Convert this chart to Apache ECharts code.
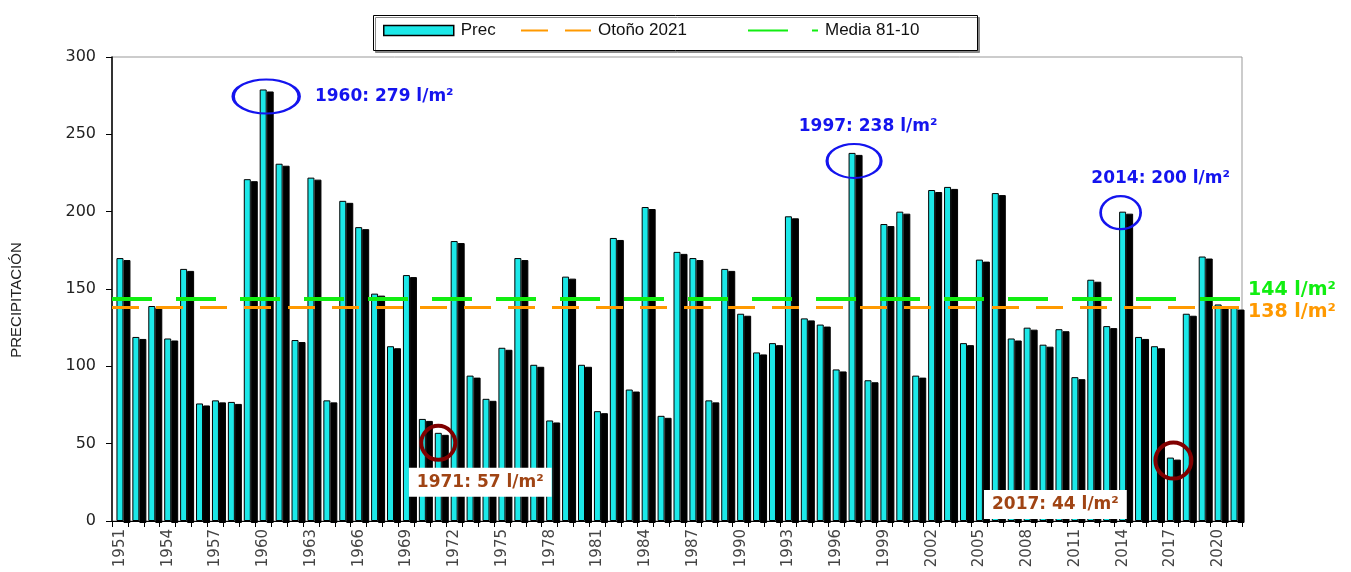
<!DOCTYPE html>
<html>
<head>
<meta charset="utf-8">
<title>Precipitación otoño</title>
<script src="https://cdn.jsdelivr.net/npm/echarts@6/dist/echarts.min.js"></script>
<style>
  html, body { margin: 0; padding: 0; background: #fff; }
  #chart { width: 1351px; height: 572px; }
</style>
</head>
<body>
<div id="chart"></div>
<script>
var years = [];
for (var y = 1951; y <= 2021; y++) years.push(String(y));

var prec = [
  170, 119, 139, 118, 163, 76, 78, 77, 221, 279,
  231, 117, 222, 78, 207, 190, 147, 113, 159, 66,
  57, 181, 94, 79, 112, 170, 101, 65, 158, 101,
  71, 183, 85, 203, 68, 174, 170, 78, 163, 134,
  109, 115, 197, 131, 127, 98, 238, 91, 192, 200,
  94, 214, 216, 115, 169, 212, 118, 125, 114, 124,
  93, 156, 126, 200, 119, 113, 41, 134, 171, 140,
  138
];

var otono2021 = 138;
var media8110 = 144;

var yTicks = [0, 50, 100, 150, 200, 250, 300];

// annotations: [year, value, text]
var highs = [['1960', 279, '1960: 279 l/m²'], ['1997', 238, '1997: 238 l/m²'], ['2014', 200, '2014: 200 l/m²']];
var lows = [['1971', 57, '1971: 57 l/m²'], ['2017', 41, '2017: 44 l/m²']];

var blue = '#1414ee';
var brown = '#a04414';
var darkRed = '#800000';
var orange = '#ff9900';
var green = '#11ee11';

var chart = echarts.init(document.getElementById('chart'));

var hiStyle = [
  { size: [66, 34], offset: [3, 7], pos: 'right', dist: 14, lblOff: [0, 0] },
  { size: [54, 34], offset: [2, 8], pos: 'top', dist: 8, lblOff: [14, 0] },
  { size: [40, 33], offset: [-2, 1], pos: 'top', dist: 8, lblOff: [40, 0] }
];
var loStyle = [
  { size: [34, 34], offset: [0, 10], pos: 'bottom', dist: 6, lblOff: [42, 0] },
  { size: [36, 36], offset: [3, 3], pos: 'inside', dist: 0, lblOff: [-118, 44] }
];

var markData = [];
highs.forEach(function(h, i) {
  var s = hiStyle[i];
  markData.push({
    coord: [h[0], h[1]],
    symbol: 'circle',
    symbolSize: s.size,
    symbolOffset: s.offset,
    itemStyle: { color: 'rgba(0,0,0,0)', borderColor: blue, borderWidth: 2.5, shadowColor: 'rgba(0,0,0,0)' },
    label: {
      show: true, position: s.pos, distance: s.dist, offset: s.lblOff,
      formatter: h[2], color: blue,
      fontFamily: 'DejaVu Sans', fontWeight: 'bold', fontSize: 17
    }
  });
});
lows.forEach(function(l, i) {
  var s = loStyle[i];
  markData.push({
    coord: [l[0], l[1]],
    symbol: 'circle',
    symbolSize: s.size,
    symbolOffset: s.offset,
    itemStyle: { color: 'rgba(0,0,0,0)', borderColor: darkRed, borderWidth: 4, shadowColor: 'rgba(0,0,0,0)' },
    label: {
      show: true, position: s.pos, distance: s.dist, offset: s.lblOff,
      formatter: l[2], color: brown, backgroundColor: '#fff',
      padding: [6, 8, 6, 8],
      fontFamily: 'DejaVu Sans', fontWeight: 'bold', fontSize: 17
    }
  });
});

var noDot = { color: 'rgba(0,0,0,0)', borderColor: 'rgba(0,0,0,0)', borderWidth: 0 };

// one legend per entry, placed along a shared frame
function legendItem(name, left, extra, icon) {
  var item = { name: name };
  if (extra) item.itemStyle = extra;
  if (icon) item.icon = icon;
  return {
    left: left,
    top: 22,
    padding: 0,
    itemWidth: 70,
    itemHeight: 10,
    itemGap: 0,
    selectedMode: false,
    itemStyle: { borderWidth: 1.5, shadowColor: 'rgba(0,0,0,0)', shadowOffsetX: 0, shadowOffsetY: 0 },
    data: [item],
    textStyle: { fontFamily: 'Liberation Sans', fontSize: 17, color: '#111', padding: [0, 0, 0, 2] }
  };
}

var option = {
  backgroundColor: '#fff',
  animation: false,
  graphic: [{
    type: 'rect',
    left: 373,
    top: 15,
    shape: { width: 604, height: 35 },
    style: { fill: '#fff', stroke: '#000', lineWidth: 1, shadowColor: '#888', shadowOffsetX: 2, shadowOffsetY: 2 },
    z: -1
  }],
  legend: [
    legendItem('Prec', 383, null, 'rect'),
    legendItem('Otoño 2021', 520, noDot),
    legendItem('Media 81-10', 747, noDot)
  ],
  grid: {
    left: 112,
    right: 109,
    top: 57,
    bottom: 51,
    show: true,
    borderColor: '#999',
    borderWidth: 1
  },
  xAxis: {
    type: 'category',
    data: years,
    axisLine: { lineStyle: { color: '#000', width: 1 } },
    axisTick: { show: true, interval: 0, length: 6, lineStyle: { color: '#000' } },
    axisLabel: {
      interval: 2,
      rotate: 90,
      margin: 8,
      fontFamily: 'DejaVu Sans',
      fontSize: 15,
      color: '#444'
    }
  },
  yAxis: {
    type: 'value',
    min: yTicks[0],
    max: yTicks[yTicks.length - 1],
    interval: 50,
    name: 'PRECIPITACIÓN',
    nameLocation: 'middle',
    nameRotate: 90,
    nameGap: 88,
    nameTextStyle: { fontFamily: 'Liberation Sans', fontSize: 15, color: '#222', padding: [0, 22, 0, 0] },
    axisLine: { show: true, lineStyle: { color: '#000', width: 1.5 } },
    axisTick: { show: true, length: 6, lineStyle: { color: '#000' } },
    splitLine: { show: false },
    axisLabel: {
      margin: 16,
      fontFamily: 'DejaVu Sans',
      fontSize: 16,
      color: '#222'
    }
  },
  series: [
    {
      name: 'Prec',
      type: 'bar',
      data: prec,
      barWidth: 7,
      itemStyle: {
        color: '#1ce8e8',
        borderColor: '#000',
        borderWidth: 1,
        shadowColor: '#000',
        shadowBlur: 0,
        shadowOffsetX: 7,
        shadowOffsetY: 2
      },
      emphasis: { disabled: true },
      markPoint: {
        silent: true,
        data: markData
      }
    },
    {
      name: 'Otoño 2021',
      type: 'line',
      data: [],
      symbol: 'none',
      color: orange,
      lineStyle: { color: orange, width: 3, type: [27, 17] },
      markLine: {
        silent: true,
        symbol: ['none', 'none'],
        lineStyle: { color: orange, width: 3, type: [27, 17] },
        label: {
          show: true, position: 'end', distance: 6,
          formatter: '{s| }\n{v|' + otono2021 + ' l/m²}',
          rich: {
            s: { lineHeight: 9, fontSize: 8 },
            v: { color: orange, fontFamily: 'DejaVu Sans', fontWeight: 'bold', fontSize: 19, lineHeight: 22 }
          }
        },
        data: [{ yAxis: otono2021 }]
      }
    },
    {
      name: 'Media 81-10',
      type: 'line',
      data: [],
      symbol: 'none',
      color: green,
      lineStyle: { color: green, width: 4, type: [40, 24] },
      markLine: {
        silent: true,
        symbol: ['none', 'none'],
        lineStyle: { color: green, width: 4, type: [40, 24] },
        label: {
          show: true, position: 'end', distance: 6,
          formatter: '{v|' + media8110 + ' l/m²}\n{s| }',
          rich: {
            s: { lineHeight: 16, fontSize: 8 },
            v: { color: green, fontFamily: 'DejaVu Sans', fontWeight: 'bold', fontSize: 19, lineHeight: 22 }
          }
        },
        data: [{ yAxis: media8110 }]
      }
    }
  ]
};

chart.setOption(option);
</script>
</body>
</html>
